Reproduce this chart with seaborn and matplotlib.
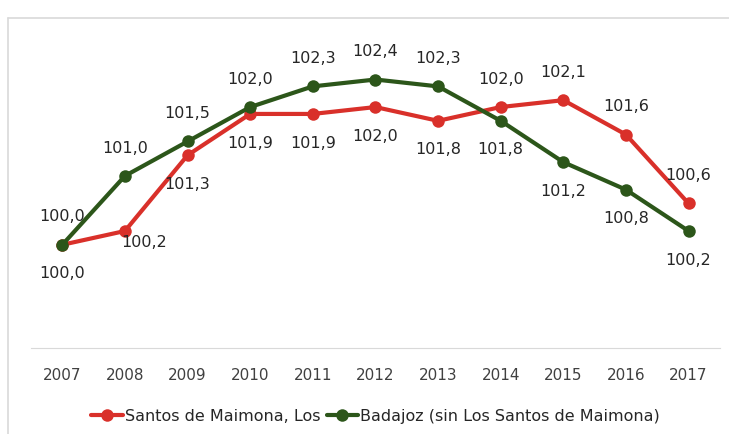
import numpy as np
import pandas as pd
import matplotlib.pyplot as plt
import seaborn as sns
from matplotlib.lines import Line2D

years = ['2007', '2008', '2009', '2010', '2011', '2012', '2013', '2014', '2015', '2016', '2017']
santos = [100.0, 100.2, 101.3, 101.9, 101.9, 102.0, 101.8, 102.0, 102.1, 101.6, 100.6]
badajoz = [100.0, 101.0, 101.5, 102.0, 102.3, 102.4, 102.3, 101.8, 101.2, 100.8, 100.2]
name_s = 'Santos de Maimona, Los'
name_b = 'Badajoz (sin Los Santos de Maimona)'

sns.set_style('white')
plt.rcParams['font.family'] = ['DejaVu Sans']

df = pd.DataFrame({
    'year': years * 2,
    'value': santos + badajoz,
    'serie': [name_s] * len(years) + [name_b] * len(years),
})

red = '#d9302a'
green = '#2c561a'

fig = plt.figure(figsize=(7.29, 4.34), dpi=100)
ax = fig.add_axes([0.0425, 0.198, 0.945, 0.714])
# marco del grafico (solo borde superior e izquierdo visibles)
fx, fy = 8 / 729, 1 - 18 / 434
fig.lines.append(Line2D([fx, 1], [fy, fy], transform=fig.transFigure, color='#d9d9d9', lw=1.2))
fig.lines.append(Line2D([fx, fx], [0, fy], transform=fig.transFigure, color='#d9d9d9', lw=1.2))

sns.lineplot(data=df, x='year', y='value', hue='serie', palette=[red, green],
             marker='o', markersize=9, markeredgewidth=0, linewidth=3,
             sort=False, ax=ax)

# etiquetas de datos
pos_s = ['b', 'r', 'b', 'b', 'b', 'b', 'b', 't', 't', 't', 't']
pos_b = ['t', 't', 't', 't', 't', 't', 't', 'b', 'b', 'b', 'b']
for vals, pos in [(santos, pos_s), (badajoz, pos_b)]:
    for i, (v, p) in enumerate(zip(vals, pos)):
        txt = f'{v:.1f}'.replace('.', ',')
        off = {'t': (0, 20), 'b': (0, -21), 'r': (14, -8)}[p]
        ax.annotate(txt, (i, v), xytext=off, textcoords='offset points',
                    ha='center', va='center', fontsize=11.5, color='#262626')

ax.set_xlim(-0.5, len(years) - 0.5)
ax.set_ylim(98.5, 103)
ax.set_yticks([])
ax.set_xlabel('')
ax.set_ylabel('')
for s in ['top', 'left', 'right']:
    ax.spines[s].set_visible(False)
ax.spines['bottom'].set_color('#d9d9d9')
ax.tick_params(axis='x', length=0, labelsize=11, labelcolor='#404040', pad=14)

ax.legend(loc='upper center', bbox_to_anchor=(0.5, -0.15), ncol=2, frameon=False,
          fontsize=11.5, handlelength=2.0, handletextpad=0.1, columnspacing=0.4,
          labelcolor='#262626')

fig.savefig('out.png', dpi=100)
